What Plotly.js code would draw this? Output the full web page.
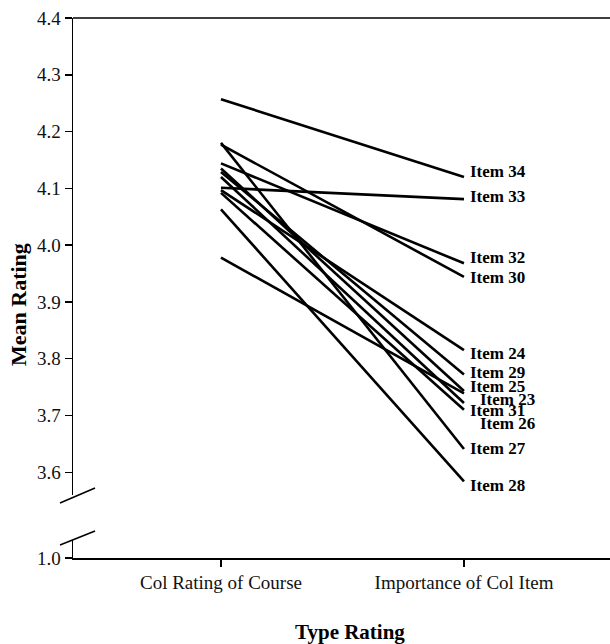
<!DOCTYPE html>
<html>
<head>
<meta charset="utf-8">
<script src="https://cdn.plot.ly/plotly-3.0.1.min.js"></script>
<style>html,body{margin:0;padding:0;background:#fff;overflow:hidden;}</style>
</head>
<body>
<div id="chart" style="width:610px;height:644px;"></div>
<script>
// Data
var categories = ['Col Rating of Course', 'Importance of Col Item'];
var items = ['Item 34','Item 33','Item 32','Item 30','Item 24','Item 29','Item 25','Item 23','Item 31','Item 26','Item 27','Item 28'];
var courseRating = [4.257, 4.101, 4.144, 4.177, 4.097, 4.129, 4.135, 3.978, 4.120, 4.092, 4.180, 4.063];
var importanceRating = [4.120, 4.081, 3.968, 3.944, 3.815, 3.772, 3.743, 3.739, 3.722, 3.710, 3.641, 3.584];
var yTicks = [3.6, 3.7, 3.8, 3.9, 4.0, 4.1, 4.2, 4.3, 4.4];
var yTicksLow = [1.0];

// label offsets (style only)
var labelShift = {
  'Item 34': [4, 5], 'Item 33': [4, 3], 'Item 32': [4, 6], 'Item 30': [4, -1],
  'Item 24': [4, -3], 'Item 29': [4, 2], 'Item 25': [4, 5], 'Item 23': [14, -6],
  'Item 31': [4, -8], 'Item 26': [14, -14], 'Item 27': [4, 0], 'Item 28': [4, -4]
};

var serif = 'Liberation Serif, Times New Roman, serif';
var traces = items.map(function (name, i) {
  return {
    type: 'scatter', mode: 'lines', name: name,
    x: categories, y: [courseRating[i], importanceRating[i]],
    xaxis: 'x', yaxis: 'y',
    line: {color: '#000', width: 2.6},
    hoverinfo: 'name+y'
  };
});
// invisible trace so the lower (broken) axis segment is drawn
traces.push({
  type: 'scatter', mode: 'lines', x: categories, y: [yTicksLow[0], yTicksLow[0]],
  xaxis: 'x', yaxis: 'y2', line: {color: 'rgba(0,0,0,0)', width: 0}, hoverinfo: 'skip'
});

var annotations = items.map(function (name, i) {
  return {
    xref: 'x', yref: 'y', x: categories[1], y: importanceRating[i],
    text: '<b>' + name + '</b>', showarrow: false,
    xanchor: 'left', yanchor: 'middle',
    xshift: labelShift[name][0], yshift: labelShift[name][1],
    font: {family: serif, size: 17, color: '#000'}
  };
});
annotations.push({
  xref: 'paper', yref: 'paper', x: 0.5158, y: -0.137,
  text: '<b>Type Rating</b>', showarrow: false, xanchor: 'center', yanchor: 'middle',
  font: {family: serif, size: 21, color: '#000'}
});
annotations.push({
  xref: 'paper', yref: 'paper', x: -0.1024, y: 0.4685, textangle: -90,
  text: '<b>Mean Rating</b>', showarrow: false, xanchor: 'center', yanchor: 'middle',
  font: {family: serif, size: 22, color: '#000'}
});

var axisLine = {showline: true, linecolor: '#000', linewidth: 1.5, ticks: 'outside',
  ticklen: 7, tickwidth: 1.5, tickcolor: '#000', showgrid: false, zeroline: false,
  tickfont: {family: serif, size: 19, color: '#111'}};

var layout = {
  width: 610, height: 644,
  margin: {l: 73, r: 0, t: 18, b: 86},
  paper_bgcolor: '#fff', plot_bgcolor: '#fff',
  showlegend: false,
  xaxis: Object.assign({}, axisLine, {
    type: 'category', range: [-0.609, 1.601], anchor: 'y2'
  }),
  yaxis: Object.assign({}, axisLine, {
    domain: [0.1167, 1], range: [3.56, 4.4], tickvals: yTicks, tickformat: '.1f', anchor: 'x'
  }),
  yaxis2: Object.assign({}, axisLine, {
    domain: [0, 0.0333], range: [1.0, 1.0317], tickvals: yTicksLow, tickformat: '.1f', anchor: 'x'
  }),
  shapes: [
    {type: 'line', xref: 'paper', yref: 'paper', x0: 0, x1: 1, y0: 1, y1: 1, line: {color: '#000', width: 1.5}},
    {type: 'line', xref: 'paper', yref: 'paper', x0: -0.0242, y0: 0.1019, x1: 0.041, y1: 0.1296, line: {color: '#000', width: 1.5}},
    {type: 'line', xref: 'paper', yref: 'paper', x0: -0.0242, y0: 0.0241, x1: 0.041, y1: 0.05, line: {color: '#000', width: 1.5}}
  ],
  annotations: annotations
};

Plotly.newPlot('chart', traces, layout, {displayModeBar: false, staticPlot: true});
</script>
</body>
</html>
